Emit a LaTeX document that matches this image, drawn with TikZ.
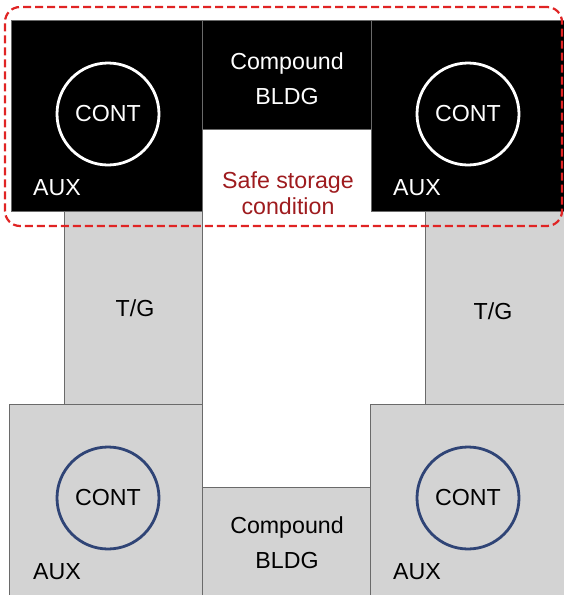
\documentclass[tikz,border=0pt]{standalone}
\usepackage{fontspec}
\setmainfont{Liberation Sans}
\usepackage{tikz}
\usetikzlibrary{
  positioning,
  fit,
}
\definecolor{edgegray}{HTML}{6A6A6A}
\definecolor{bldggray}{HTML}{D3D3D3}
\definecolor{contblue}{HTML}{2F4476}
\definecolor{safered}{HTML}{E02424}
\definecolor{safetext}{HTML}{9E1B1E}

\begin{document}
\begin{tikzpicture}[
    x=0.5pt, y=-0.5pt,
    hot/.style={draw=edgegray, line width=0.5pt, fill=black, inner sep=0pt},
    cold/.style={draw=edgegray, line width=0.5pt, fill=bldggray, inner sep=0pt},
    conthot/.style={circle, draw=white, line width=1.4pt, minimum size=51pt,
                    inner sep=0pt, text=white, font=\fontsize{11.6}{14}\selectfont},
    contcold/.style={circle, draw=contblue, line width=1.4pt, minimum size=51pt,
                     inner sep=0pt, text=black, font=\fontsize{11.6}{14}\selectfont},
    lbl/.style={inner sep=0pt, font=\fontsize{11.6}{14}\selectfont},
    safebox/.style={draw=safered, line width=1.1pt, dash pattern=on 4pt off 2pt,
                    rounded corners=7.5pt, inner sep=0pt},
  ]
  \useasboundingbox (0,0) rectangle (563,595);

  % Upper row: safe storage condition
  \node[hot, fit={(11,20) (202,211)}]  (auxTL) {};
  \node[hot, fit={(202,20) (371,129)}] (cbTop) {};
  \node[hot, fit={(371,20) (566,211)}] (auxTR) {};

  % Turbine buildings
  \node[cold, fit={(64,211) (202,404)}]  (tgL) {};
  \node[cold, fit={(425,211) (566,404)}] (tgR) {};

  % Lower row
  \node[cold, fit={(9,404) (202,598)}]   (auxBL) {};
  \node[cold, fit={(202,487) (371,598)}] (cbBot) {};
  \node[cold, fit={(370,404) (566,598)}] (auxBR) {};

  \node[conthot] (contTL) at (108,114) {CONT};
  \node[conthot] (contTR) at (468,114) {CONT};
  \node[contcold] (contBL) at (108,498) {CONT};
  \node[contcold] (contBR) at (468,498) {CONT};

  \node[lbl, text=white] (auxTLlbl) at (57,188) {AUX};
  \node[lbl, text=white] (auxTRlbl) at (417,188) {AUX};
  \node[lbl] (auxBLlbl) at (57,572) {AUX};
  \node[lbl] (auxBRlbl) at (417,572) {AUX};

  \node[lbl] (tgLlbl) at (135,308) {T/G};
  \node[lbl] (tgRlbl) at (493,311) {T/G};

  \node[lbl, text=white, align=center, font=\fontsize{11.6}{17.5}\selectfont]
    (cbToplbl) at (287,79) {Compound\\BLDG};
  \node[lbl, align=center, font=\fontsize{11.6}{17.5}\selectfont]
    (cbBotlbl) at (287,543) {Compound\\BLDG};

  \node[lbl, text=safetext, align=center, font=\fontsize{11.6}{13}\selectfont]
    (safelbl) at (288,193) {Safe storage\\condition};

  \node[safebox, fit={(5,7) (562,226)}] (safe) {};
\end{tikzpicture}
\end{document}
